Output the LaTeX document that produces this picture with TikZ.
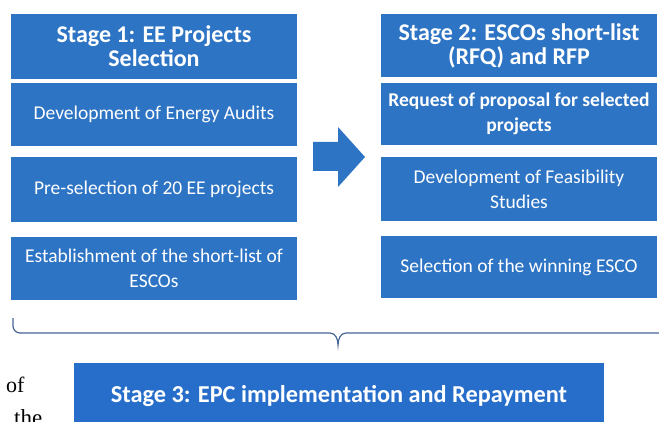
\documentclass[tikz,border=0pt]{standalone}
\usepackage{fontspec}
\setmainfont{Carlito}
\newfontfamily\pageserif{Liberation Serif}
\usepackage{xcolor}
\definecolor{stageblue}{RGB}{46,116,196}
\definecolor{stagedark}{RGB}{38,110,202}
\definecolor{bracecol}{RGB}{70,100,150}
\tikzset{
  stagehead/.style={fill=stageblue, text=white, align=center, inner sep=0pt,
    font=\fontsize{24}{24}\selectfont\bfseries, minimum width=#1},
  stepbox/.style={fill=stageblue, text=white, align=center, inner sep=0pt,
    font=\fontsize{19.5}{25}\selectfont, minimum width=#1},
}

\begin{document}
\begin{tikzpicture}[x=1pt, y=1pt]
	\useasboundingbox (0,0) rectangle (659,421);
	% stage 1 column
	\node[stagehead=286pt, minimum height=65pt] (s1) at (154,374.5) {Stage 1: EE Projects\\Selection};
	\node[stepbox=286pt, minimum height=63pt] (a1) at (154,306.5) {Development of Energy Audits};
	\node[stepbox=286pt, minimum height=65pt] (a2) at (154,231.5) {Pre-selection of 20 EE projects};
	\node[stepbox=286pt, minimum height=63pt] (a3) at (154,152.5) {Establishment of the short-list of\\ESCOs};
	% stage 2 column
	\node[stagehead=276pt, minimum height=63pt] (s2) at (519,375.5) {Stage 2: ESCOs short-list\\(RFQ) and RFP};
	\node[stepbox=276pt, minimum height=62pt, font=\fontsize{19.5}{25}\selectfont\bfseries] (b1) at (519,307) {Request of proposal for selected\\projects};
	\node[stepbox=276pt, minimum height=64pt] (b2) at (519,232) {Development of Feasibility\\Studies};
	\node[stepbox=276pt, minimum height=62pt] (b3) at (519,154) {Selection of the winning ESCO};
	% block arrow
	\fill[stageblue] (313,279) -- (338,279) -- (338,294) -- (365,264) -- (338,234) -- (338,250) -- (313,250) -- cycle;
	% brace
	\draw[bracecol, line width=1.2pt] (13,103) -- (13,95) to[out=-90,in=180] (20,88) -- (330,88)
		to[out=0,in=90] (338,76) to[out=90,in=180] (346,88) -- (659,88);
	% stage 3
	\node[stagehead=530pt, minimum height=67pt, fill=stagedark, font=\fontsize{24.3}{28}\selectfont\bfseries] (s3) at (339,24.5) {Stage 3: EPC implementation and Repayment};
	% page text
	\node[anchor=base west, inner sep=0pt, font=\pageserif\fontsize{22}{26}\selectfont] (pof) at (6,29) {of};
	\node[anchor=base west, inner sep=0pt, font=\pageserif\fontsize{23}{26}\selectfont] (pthe) at (14,-4) {the};
\end{tikzpicture}
\end{document}
